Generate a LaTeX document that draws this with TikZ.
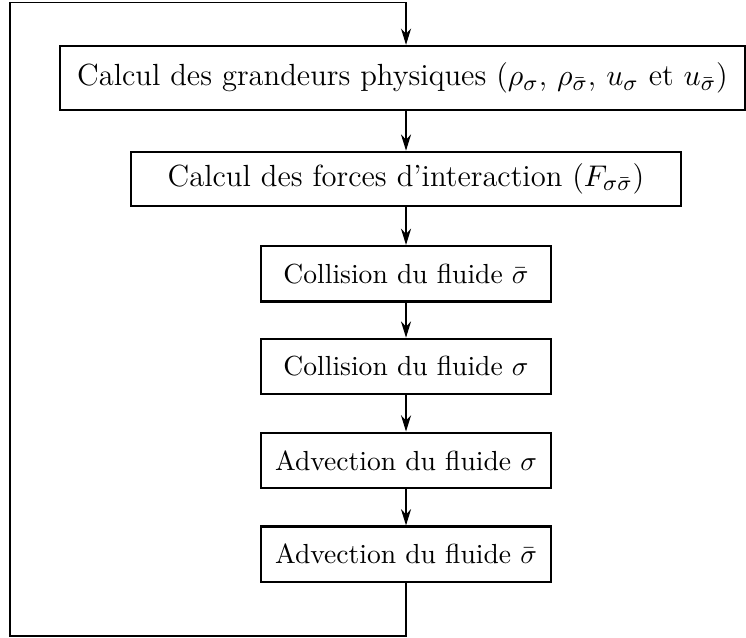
\documentclass[tikz,border=0pt]{standalone}
\usepackage{amsmath}
\usetikzlibrary{arrows.meta, positioning, calc}

\begin{document}
\begin{tikzpicture}[
    node distance=0.465cm,
    etape/.style={rectangle, draw, thick, minimum width=3.73cm, minimum height=0.715cm, font=\fontsize{10.1}{12.5}\selectfont},
    grande/.style={etape, font=\fontsize{11.2}{14}\selectfont},
    fleche/.style={-{Stealth[length=2.1mm, width=1.3mm]}},
]
    \useasboundingbox (0,0) rectangle (9.6,8.21);
    \node[grande, minimum width=8.815cm, minimum height=0.824cm] (grand) at (5.18,7.207) {Calcul des grandeurs physiques ($\rho_\sigma$, $\rho_{\bar\sigma}$, $u_\sigma$ et $u_{\bar\sigma}$)};
    \node[grande, minimum width=7.08cm, minimum height=0.695cm, below=0.51cm of grand, xshift=0.045cm] (force) {Calcul des forces d'interaction ($F_{\sigma\bar\sigma}$)};
    \node[etape, below=0.49cm of force] (colb) {Collision du fluide $\bar\sigma$};
    \node[etape, below=0.45cm of colb] (col) {Collision du fluide $\sigma$};
    \node[etape, below=of col] (adv) {Advection du fluide $\sigma$};
    \node[etape, below=of adv] (advb) {Advection du fluide $\bar\sigma$};

    \draw[fleche] (grand.south -| force) -- (force);
    \draw[fleche] (force) -- (colb);
    \draw[fleche] (colb) -- (col);
    \draw[fleche] (col) -- (adv);
    \draw[fleche] (adv) -- (advb);

    % boucle de retour
    \coordinate (bas) at ($(advb.south)+(0,-0.68)$);
    \coordinate (haut) at ($(grand.north -| force)+(0,0.54)$);
    \coordinate (gauche) at (0.129,4);
    \draw[fleche] (advb.south) -- (bas) -| (gauche) |- (haut) -- (grand.north -| force);
\end{tikzpicture}
\end{document}
